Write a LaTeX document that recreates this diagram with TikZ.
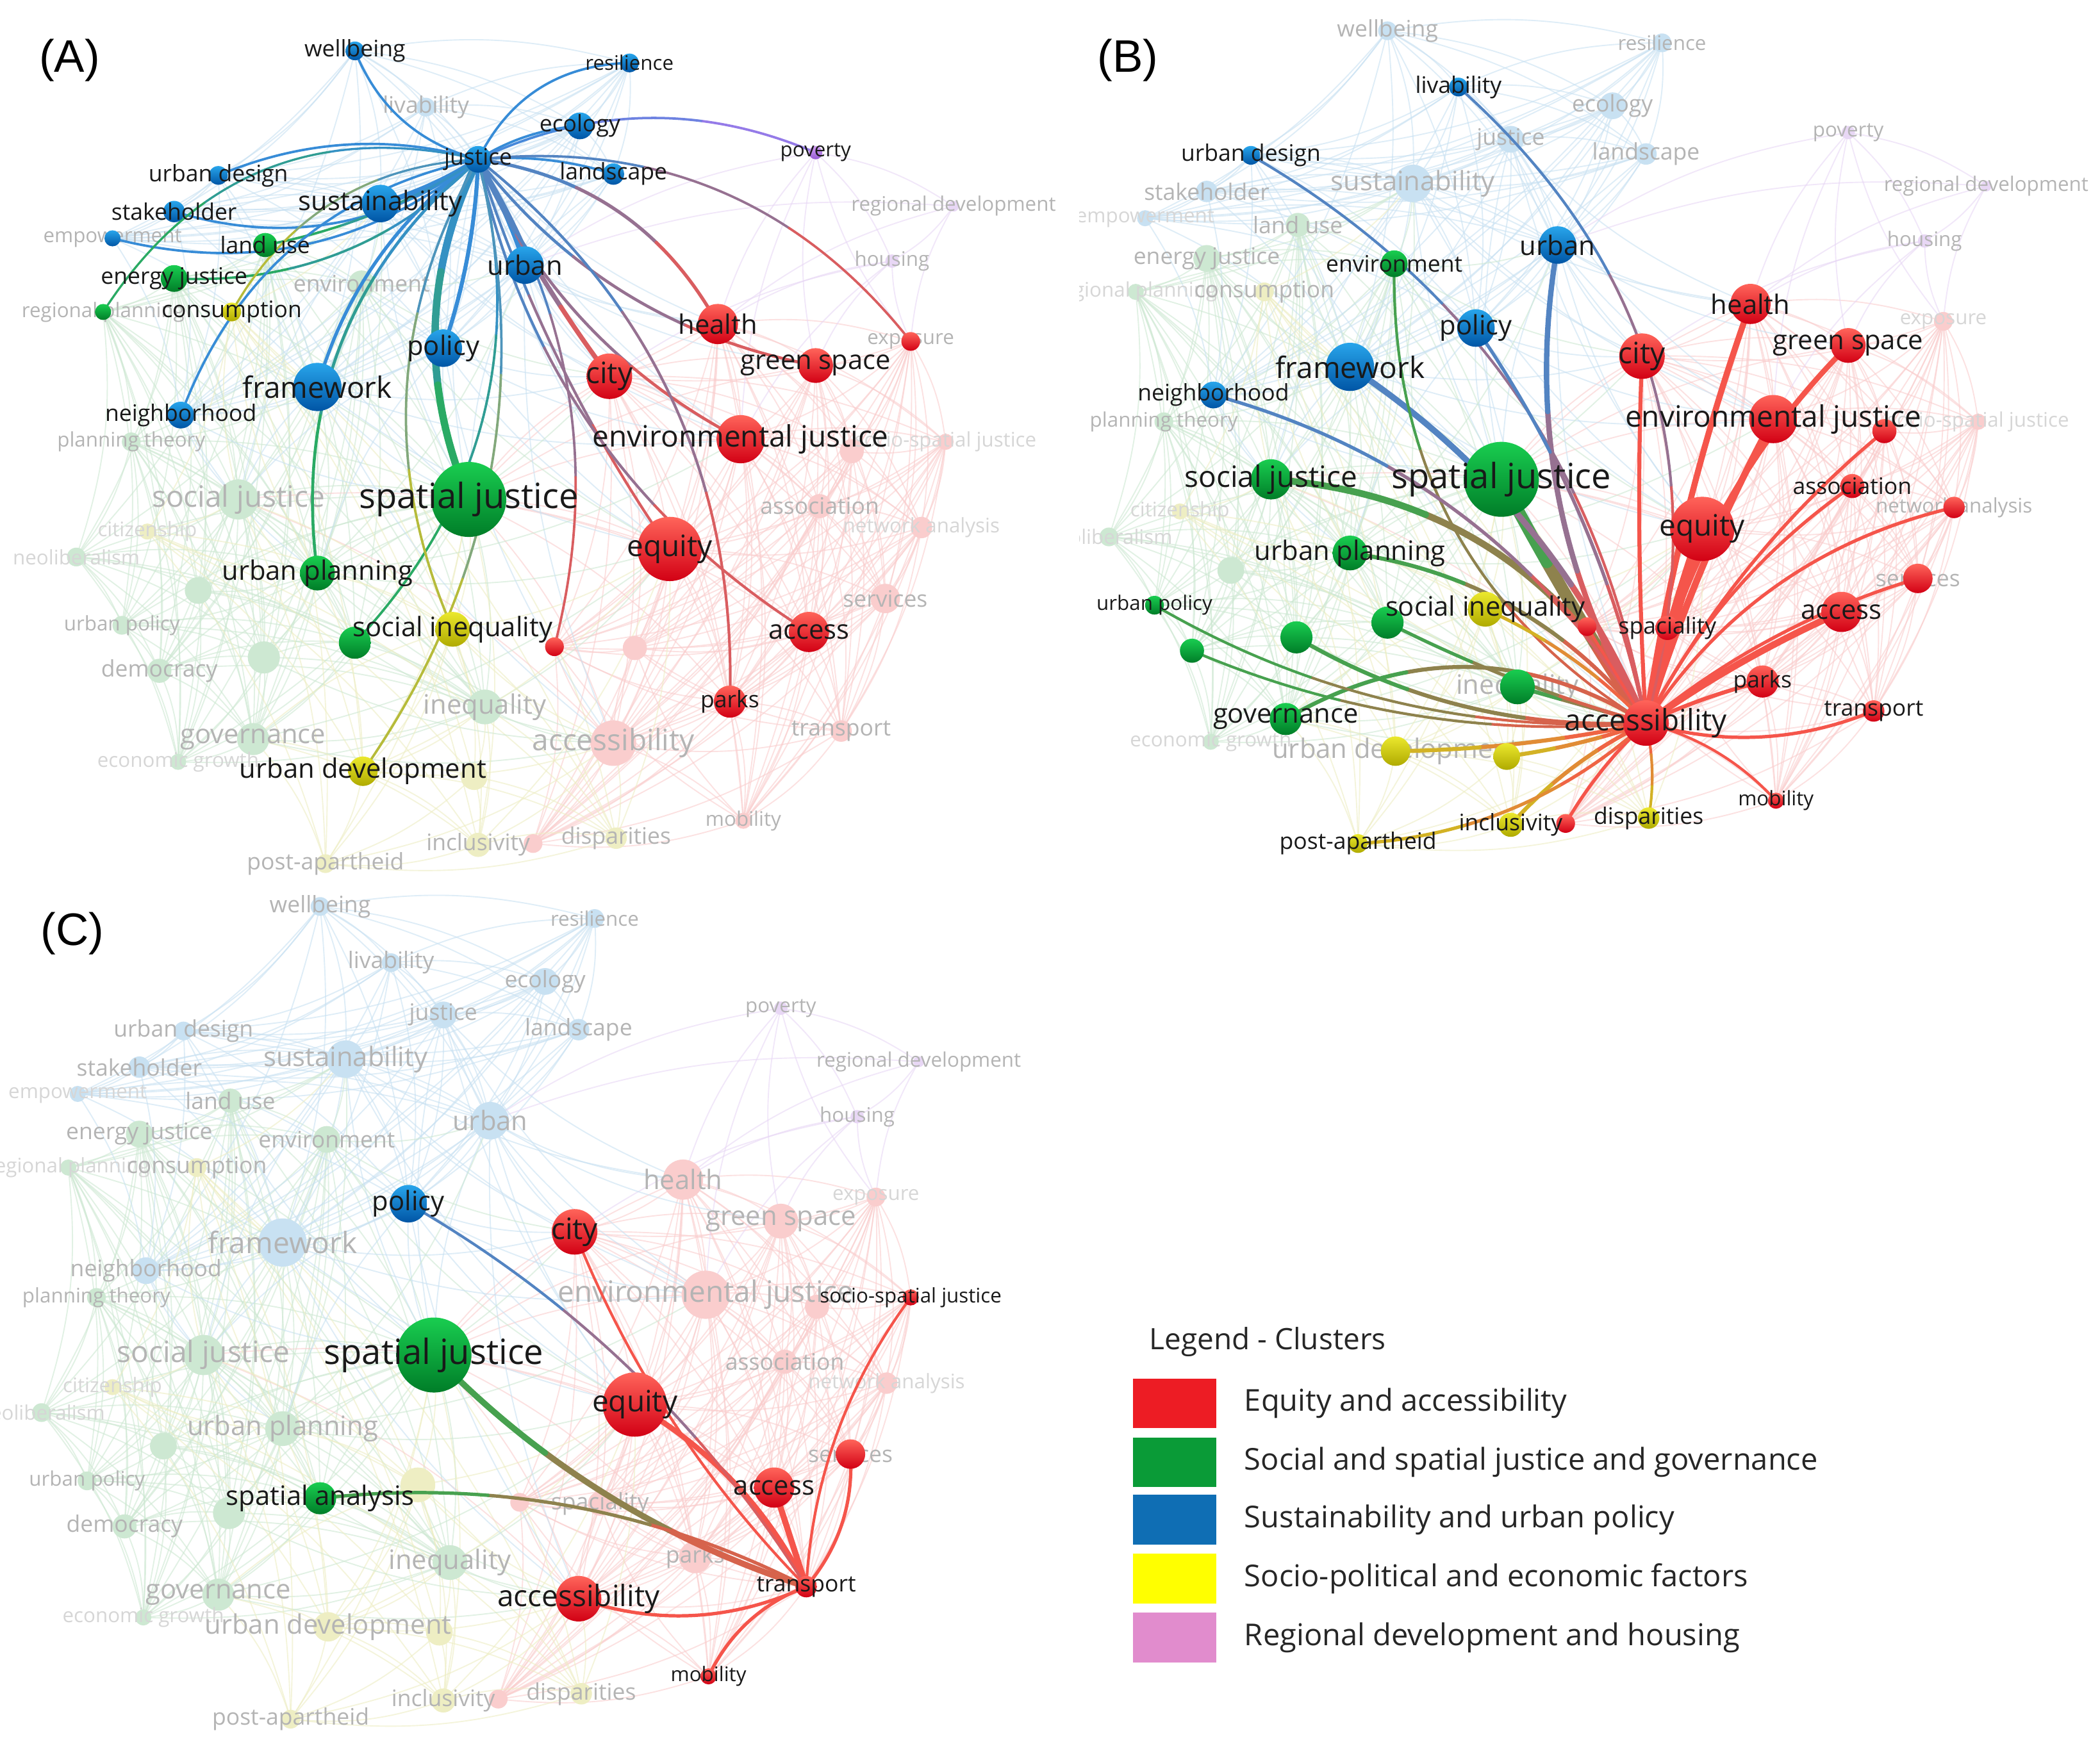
\documentclass[tikz,border=0pt]{standalone}
\usepackage{fontspec}
\setmainfont{Open Sans}
\newfontfamily\panelfont{Liberation Sans}
\usetikzlibrary{calc}

\definecolor{cRt}{RGB}{255,100,90}
\definecolor{cRb}{RGB}{210,0,20}
\definecolor{cGt}{RGB}{25,205,80}
\definecolor{cGb}{RGB}{0,125,40}
\definecolor{cBt}{RGB}{40,165,235}
\definecolor{cBb}{RGB}{0,85,165}
\definecolor{cYt}{RGB}{235,232,45}
\definecolor{cYb}{RGB}{175,170,0}
\definecolor{cPt}{RGB}{210,160,245}
\definecolor{cPb}{RGB}{150,90,210}
\definecolor{fR}{RGB}{250,205,205}
\definecolor{fG}{RGB}{205,232,210}
\definecolor{fB}{RGB}{200,225,242}
\definecolor{fY}{RGB}{238,238,195}
\definecolor{fP}{RGB}{232,215,245}
\definecolor{eR}{RGB}{245,85,75}
\definecolor{eG}{RGB}{40,175,80}
\definecolor{eB}{RGB}{55,140,215}
\definecolor{eY}{RGB}{205,195,30}
\definecolor{eP}{RGB}{165,120,235}
\definecolor{lbF}{RGB}{180,180,180}
\definecolor{lbV}{RGB}{214,214,214}
\definecolor{lbK}{RGB}{25,25,25}
\definecolor{legR}{RGB}{237,28,36}
\definecolor{legG}{RGB}{10,155,55}
\definecolor{legB}{RGB}{15,110,180}
\definecolor{legY}{RGB}{255,255,0}
\definecolor{legP}{RGB}{225,140,205}

\newcommand\kwfXL{\fontsize{26}{26}\selectfont}
\newcommand\kwfL{\fontsize{22}{22}\selectfont}
\newcommand\kwfM{\fontsize{20}{20}\selectfont}
\newcommand\kwfS{\fontsize{17}{17}\selectfont}
\newcommand\kwfXS{\fontsize{15}{15}\selectfont}

\tikzset{
  hnode/.style={circle, inner sep=0pt, draw=none, top color=c#1t, bottom color=c#1b},
  fnode/.style={circle, inner sep=0pt, draw=none, fill=f#1},
  bge/.style={draw=f#1, line width=0.9pt, opacity=0.6},
  hedgestyle/.style={line cap=round},
  kwlab/.style={inner sep=0pt, font=\csname kwf#1\endcsname},
  paneltag/.style={inner sep=0pt, font=\panelfont\fontsize{34}{34}\selectfont, text=black},
  legbox/.style={draw=none, minimum width=62pt, minimum height=37pt, inner sep=0pt},
  legtext/.style={inner sep=0pt, anchor=west, font=\fontsize{22.5}{22.5}\selectfont, text=black!85},
}

% keyword database: name/x/y/radius/cluster/label/size (panel A coordinates)
\def\kwlist{%
wel/265/38/7/B/wellbeing/S,%
liv/318/80/7/B/livability/S,%
res/470/47/7/B/resilience/XS,%
eco/433/94/10/B/ecology/S,%
jus/357/119/10/B/justice/S,%
lan/458/130/8/B/landscape/S,%
urd/163/131/7/B/urban design/S,%
sth/130/158/8/B/stakeholder/S,%
sus/284/152/14/B/sustainability/M,%
emp/84/178/6/B/empowerment/XS,%
urb/392/198/14/B/urban/M,%
pol/331/260/14/B/policy/M,%
fra/237/289/18/B/framework/L,%
nei/135/310/10/B/neighborhood/S,%
lus/198/183/9/G/land use/S,%
enj/130/208/10/G/energy justice/S,%
rpl/77/233/6/G/regional planning/XS,%
env/270/212/10/G/environment/S,%
plt/98/330/7/G/planning theory/XS,%
soj/178/373/15/G/social justice/L,%
neo/57/416/7/G/neoliberalism/XS,%
urp/237/428/13/G/urban planning/M,%
g1/148/441/10/G//S,%
upo/91/467/7/G/urban policy/XS,%
dem/119/501/9/G/democracy/S,%
g2/197/491/12/G//S,%
spa/265/480/12/G/spatial analysis/M,%
spj/350/373/28/G/spatial justice/XL,%
ine/362/528/13/G/inequality/M,%
gov/189/552/12/G/governance/M,%
ecg/133/569/6/G/economic growth/XS,%
con/173/233/7/Y/consumption/S,%
cit/110/397/6/Y/citizenship/XS,%
soi/338/470/13/Y/social inequality/M,%
urv/271/576/11/Y/urban development/M,%
y2/354/580/10/Y//S,%
inc/357/631/9/Y/inclusivity/S,%
dis/460/626/8/Y/disparities/S,%
pap/243/645/7/Y/post-apartheid/S,%
hea/536/242/15/R/health/M,%
exp/680/255/7/R/exposure/XS,%
cty/455/281/17/R/city/L,%
grs/609/273/13/R/green space/M,%
evj/553/328/18/R/environmental justice/L,%
ssj/706/330/6/R/socio-spatial justice/XS,%
r2/636/337/9/R//S,%
ass/612/378/9/R/association/S,%
ana/688/394/8/R/network analysis/XS,%
equ/500/410/24/R/equity/L,%
ser/661/447/11/R/services/S,%
acs/604/472/15/R/access/M,%
prk/545/524/12/R/parks/S,%
tra/628/546/8/R/transport/S,%
acc/458/555/17/R/accessibility/L,%
mob/555/613/6/R/mobility/XS,%
sp/474/484/9/R/spaciality/S,%
r1/414/483/7/R//S,%
rI/398/630/7/R//S,%
pov/609/114/5/P/poverty/XS,%
rde/712/154/4/P/regional development/XS,%
hou/666/195/5/P/housing/XS}

\def\redlist{hea,exp,cty,grs,evj,ssj,r2,ass,ana,equ,ser,acs,prk,tra,acc,mob,sp,r1,rI}
\def\greenlist{lus,enj,rpl,env,plt,soj,neo,urp,g1,upo,dem,g2,spa,spj,ine,gov,ecg}
\def\bluelist{wel,liv,res,eco,jus,lan,urd,sth,sus,emp,urb,pol,fra,nei}
\def\yellowlist{con,cit,soi,urv,y2,inc,dis,pap}
\def\purplelist{pov,rde,hou}
\def\crosslist{spj/equ/R,spj/acc/R,spj/evj/R,spj/cty/R,spj/hea/R,spj/acs/R,spj/prk/R,spj/grs/R,spj/soi/Y,spj/urv/Y,spj/inc/Y,spj/pap/Y,spj/dis/Y,spj/fra/B,spj/pol/B,spj/urb/B,spj/sus/B,spj/jus/B,spj/nei/B,spj/urd/B,soj/fra/B,soj/pol/B,soj/sus/B,soj/nei/B,soj/equ/R,soj/acc/R,soj/soi/Y,soj/urv/Y,soj/con/Y,soj/cit/Y,soj/pap/Y,equ/fra/B,equ/pol/B,equ/urb/B,equ/sus/B,equ/jus/B,equ/urp/G,equ/gov/G,equ/ine/G,equ/soi/Y,equ/urv/Y,equ/inc/Y,equ/dis/Y,equ/env/G,acc/urp/G,acc/gov/G,acc/ine/G,acc/soi/Y,acc/urv/Y,acc/inc/Y,acc/dis/Y,acc/pap/Y,acc/fra/B,acc/pol/B,acc/urb/B,acc/spa/G,acc/g2/G,evj/urb/B,evj/pol/B,evj/fra/B,evj/sus/B,evj/jus/B,evj/pov/P,evj/hou/P,evj/urp/G,cty/urb/B,cty/pol/B,cty/fra/B,cty/sus/B,cty/jus/B,cty/urp/G,cty/env/G,cty/hou/P,hea/urb/B,hea/sus/B,hea/jus/B,hea/hou/P,hea/rde/P,hea/pov/P,fra/urp/G,fra/env/G,fra/lus/G,fra/enj/G,fra/plt/G,fra/dem/G,fra/gov/G,fra/con/Y,sus/env/G,sus/lus/G,sus/enj/G,sus/rpl/G,sus/con/Y,sus/urp/G,urb/env/G,urb/urp/G,urb/pov/P,urb/rde/P,urp/soi/Y,urp/urv/Y,urp/cit/Y,urp/con/Y,urp/nei/B,urp/pol/B,gov/urv/Y,gov/pap/Y,gov/inc/Y,gov/soi/Y,ine/soi/Y,ine/urv/Y,ine/inc/Y,ine/dis/Y,ine/y2/Y,grs/urb/B,grs/pov/P,grs/hou/P,exp/hou/P,exp/rde/P,exp/pov/P}

% flags
\newcommand\setflags[2]{\foreach \z in {#2}{\expandafter\gdef\csname #1\z\endcsname{}}}
\setflags{hlA}{jus,wel,res,eco,pov,lan,urd,sth,sus,emp,lus,urb,enj,rpl,con,hea,pol,exp,cty,grs,fra,nei,evj,spj,urp,equ,soi,spa,r1,acs,prk,urv}
\setflags{flA}{emp,rpl,exp}
\setflags{hideA}{spa,sp}
\setflags{hlB}{acc,liv,urd,urb,env,pol,fra,nei,hea,cty,grs,evj,r2,soj,spj,ass,ana,equ,urp,soi,r1,sp,upo,dem,g2,spa,ine,ser,acs,prk,tra,gov,urv,y2,mob,inc,rI,pap,dis}
\setflags{flB}{ine,urv,ser,ana}
\setflags{hideB}{spa,dem}
\setflags{hlC}{tra,acc,acs,equ,ser,mob,ssj,spj,spa,cty,pol}
\setflags{flC}{ser}
\setflags{hideC}{soi}
\setflags{vf}{ecg,neo,cit,emp,exp,rpl,ssj,ana}

% background mesh of one cluster
\newcommand\clusteredges[3]{%
  \foreach \ea [count=\ei] in #3 {%
    \foreach \eb [count=\ej] in #3 {%
      \ifnum\ej>\ei \draw[bge=#2] (#1\ea) to[bend left=12] (#1\eb);\fi
    }}}

% highlighted curved edge with colour gradient: panel, from, to, bend, width, colour from, colour to
\newcommand\hedge[7]{%
  \coordinate (hP) at (#1#2);
  \coordinate (hQ) at (#1#3);
  \coordinate (hM) at ($(hP)!0.5!(hQ)$);
  \coordinate (hC) at ($(hM)!#4!90:(hQ)$);
  \coordinate (hA1) at ($(hP)!0.3333!(hC)$);
  \coordinate (hA2) at ($(hC)!0.3333!(hQ)$);
  \coordinate (hB1) at ($(hA1)!0.3333!(hA2)$);
  \coordinate (hK2) at ($(hA1)!0.6667!(hA2)$);
  \coordinate (hD1) at ($(hP)!0.6667!(hC)$);
  \coordinate (hD2) at ($(hC)!0.6667!(hQ)$);
  \coordinate (hB2) at ($(hD1)!0.6667!(hD2)$);
  \draw[hedgestyle, line width=#5pt, draw=#6!85!#7] (hP) .. controls ($(hP)!0.6667!(hA1)$) and ($(hB1)!0.6667!(hA1)$) .. (hB1);
  \draw[hedgestyle, line width=#5pt, draw=#6!50!#7] (hB1) .. controls ($(hB1)!0.6667!(hK2)$) and ($(hB2)!0.6667!(hK2)$) .. (hB2);
  \draw[hedgestyle, line width=#5pt, draw=#6!15!#7] (hB2) .. controls ($(hB2)!0.6667!(hD2)$) and ($(hQ)!0.6667!(hD2)$) .. (hQ);
}

\newcommand\edgesA{%
  \foreach \xt/\xb/\xw/\xc in {spj/-0.45/5.5/eG,sus/0.15/4/eB,urb/0.1/3.5/eB,cty/-0.1/3.5/eR,pol/0.15/3/eB,fra/-0.35/2.5/eB,hea/0.5/2.5/eR,urp/-0.55/2.2/eG,grs/-0.38/2.2/eR,evj/-0.35/2.2/eR,equ/-0.15/2/eR,acs/-0.42/2/eR,prk/0.5/2/eR,wel/0.5/1.8/eB,res/0.6/1.8/eB,eco/0.25/1.8/eB,pov/0.45/1.8/eP,lan/0.2/1.8/eB,urd/-0.35/1.8/eB,sth/0.5/1.8/eB,emp/0.5/1.8/eB,lus/0.2/1.8/eG,enj/0.45/1.8/eG,rpl/-0.7/1.6/eG,con/-0.55/1.6/eY,nei/-0.55/1.8/eB,spa/0.55/1.8/eG,soi/-0.5/1.8/eY,urv/0.45/1.8/eY,exp/0.55/1.8/eR,r1/0.43/1.8/eR}
  {\hedge{A}{jus}{\xt}{\xb}{\xw}{eB}{\xc}}}

\newcommand\edgesB{%
  \foreach \xt/\xb/\xw/\xc in {spj/0.05/9/eG,equ/0.05/8/eR,evj/0.1/5/eR,acs/0.1/5/eR,soj/-0.55/5/eG,hea/0.1/4.5/eR,fra/-0.3/4.5/eB,grs/0.3/4/eR,urb/0.37/4/eB,cty/0.05/3/eR,urp/-0.4/3/eG,g2/0.3/3/eG,ine/0/3/eG,prk/0.1/3/eR,gov/-0.6/3/eG,urv/0.1/3/eY,y2/0.1/3/eY,inc/-0.2/3/eY,liv/-0.62/2/eB,urd/-0.47/2/eB,env/0.57/2/eG,pol/-0.2/2.5/eB,nei/-0.4/2.5/eB,r2/0.2/2.5/eR,ass/0.25/2.5/eR,ana/0.4/2.5/eR,soi/-0.2/2.5/eY,r1/0/2/eR,sp/0.1/2.5/eR,upo/0.3/2/eG,dem/0.25/2/eG,spa/0.1/2.5/eG,ser/0.2/2.5/eR,tra/-0.35/2.5/eR,mob/0.3/2/eR,rI/-0.15/2.5/eR,pap/0.35/2.5/eY,dis/0.2/2/eY}
  {\hedge{B}{acc}{\xt}{\xb}{\xw}{eR}{\xc}}}

\newcommand\edgesC{%
  \foreach \xt/\xb/\xw/\xc in {acs/0/4.5/eR,spj/0.25/4.5/eG,equ/-0.3/4/eR,acc/0.4/2.5/eR,ser/-0.4/2.5/eR,mob/-0.4/2.5/eR,ssj/0.3/2/eR,spa/-0.3/2.5/eG,cty/0.2/2/eR,pol/-0.25/2/eB}
  {\hedge{C}{tra}{\xt}{\xb}{\xw}{eR}{\xc}}}

% one network panel: letter, x offset, y offset
\newcommand\drawpanel[3]{%
  \foreach \kn/\kx/\ky/\kr/\kc/\kl/\ks in \kwlist {\coordinate (#1\kn) at (\kx+#2,\ky+#3);}%
  \clusteredges{#1}{R}{\redlist}%
  \clusteredges{#1}{G}{\greenlist}%
  \clusteredges{#1}{B}{\bluelist}%
  \clusteredges{#1}{Y}{\yellowlist}%
  \clusteredges{#1}{P}{\purplelist}%
  \foreach \ea/\eb/\ec in \crosslist {\draw[bge=\ec] (#1\ea) to[bend left=12] (#1\eb);}%
  % faded nodes
  \foreach \kn/\kx/\ky/\kr/\kc/\kl/\ks in \kwlist {%
    \ifcsname hl#1\kn\endcsname\else
      \node[fnode=\kc, minimum size={2*\kr*1pt}] (#1\kn-n) at (#1\kn) {};
    \fi}%
  % grey labels
  \foreach \kn/\kx/\ky/\kr/\kc/\kl/\ks in \kwlist {%
    \ifx\kl\empty\else
    \ifcsname hide#1\kn\endcsname\else
      \ifcsname hl#1\kn\endcsname
        \ifcsname fl#1\kn\endcsname \node[kwlab=\ks, text=lbF] (#1\kn-l) at (#1\kn) {\kl};\fi
      \else
        \ifcsname vf\kn\endcsname
          \node[kwlab=\ks, text=lbV] (#1\kn-l) at (#1\kn) {\kl};
        \else
          \node[kwlab=\ks, text=lbF] (#1\kn-l) at (#1\kn) {\kl};
        \fi
      \fi
    \fi\fi}%
  % highlighted links
  \csname edges#1\endcsname
  % highlighted nodes
  \foreach \kn/\kx/\ky/\kr/\kc/\kl/\ks in \kwlist {%
    \ifcsname hl#1\kn\endcsname
      \node[hnode=\kc, minimum size={2*\kr*1pt}] (#1\kn-n) at (#1\kn) {};
    \fi}%
  % black labels
  \foreach \kn/\kx/\ky/\kr/\kc/\kl/\ks in \kwlist {%
    \ifx\kl\empty\else
    \ifcsname hide#1\kn\endcsname\else
      \ifcsname hl#1\kn\endcsname
        \ifcsname fl#1\kn\endcsname\else
          \node[kwlab=\ks, text=lbK] (#1\kn-l) at (#1\kn) {\kl};
        \fi
      \fi
    \fi\fi}%
}

\begin{document}
\begin{tikzpicture}[x=1pt,y=-1pt]
  \fill[white] (0,0) rectangle (1568,1306);
  \useasboundingbox (0,0) rectangle (1568,1306);

  \begin{scope}
    \clip (0,0) rectangle (800,666);
    \drawpanel{A}{0}{0}
  \end{scope}
  \begin{scope}
    \clip (806,0) rectangle (1568,666);
    \drawpanel{B}{771}{-15}
  \end{scope}
  \begin{scope}
    \clip (0,668) rectangle (800,1306);
    \drawpanel{C}{-26}{639}
  \end{scope}

  \node[paneltag] (tagA) at (52,45) {(A)};
  \node[paneltag] (tagB) at (842,45) {(B)};
  \node[paneltag] (tagC) at (54,697) {(C)};

  % legend
  \node[anchor=west, inner sep=0pt, font=\fontsize{22}{22}\selectfont, text=black!85] (legtitle) at (858,1002) {Legend - Clusters};
  \foreach \yy/\col/\txt [count=\li] in {1048/legR/Equity and accessibility,1092/legG/Social and spatial justice and governance,1135/legB/Sustainability and urban policy,1179/legY/Socio-political and economic factors,1223/legP/Regional development and housing}{
    \node[legbox, fill=\col] (leg\li) at (877,\yy) {};
    \node[legtext] (legt\li) at (929,\yy) {\txt};
  }
\end{tikzpicture}
\end{document}
